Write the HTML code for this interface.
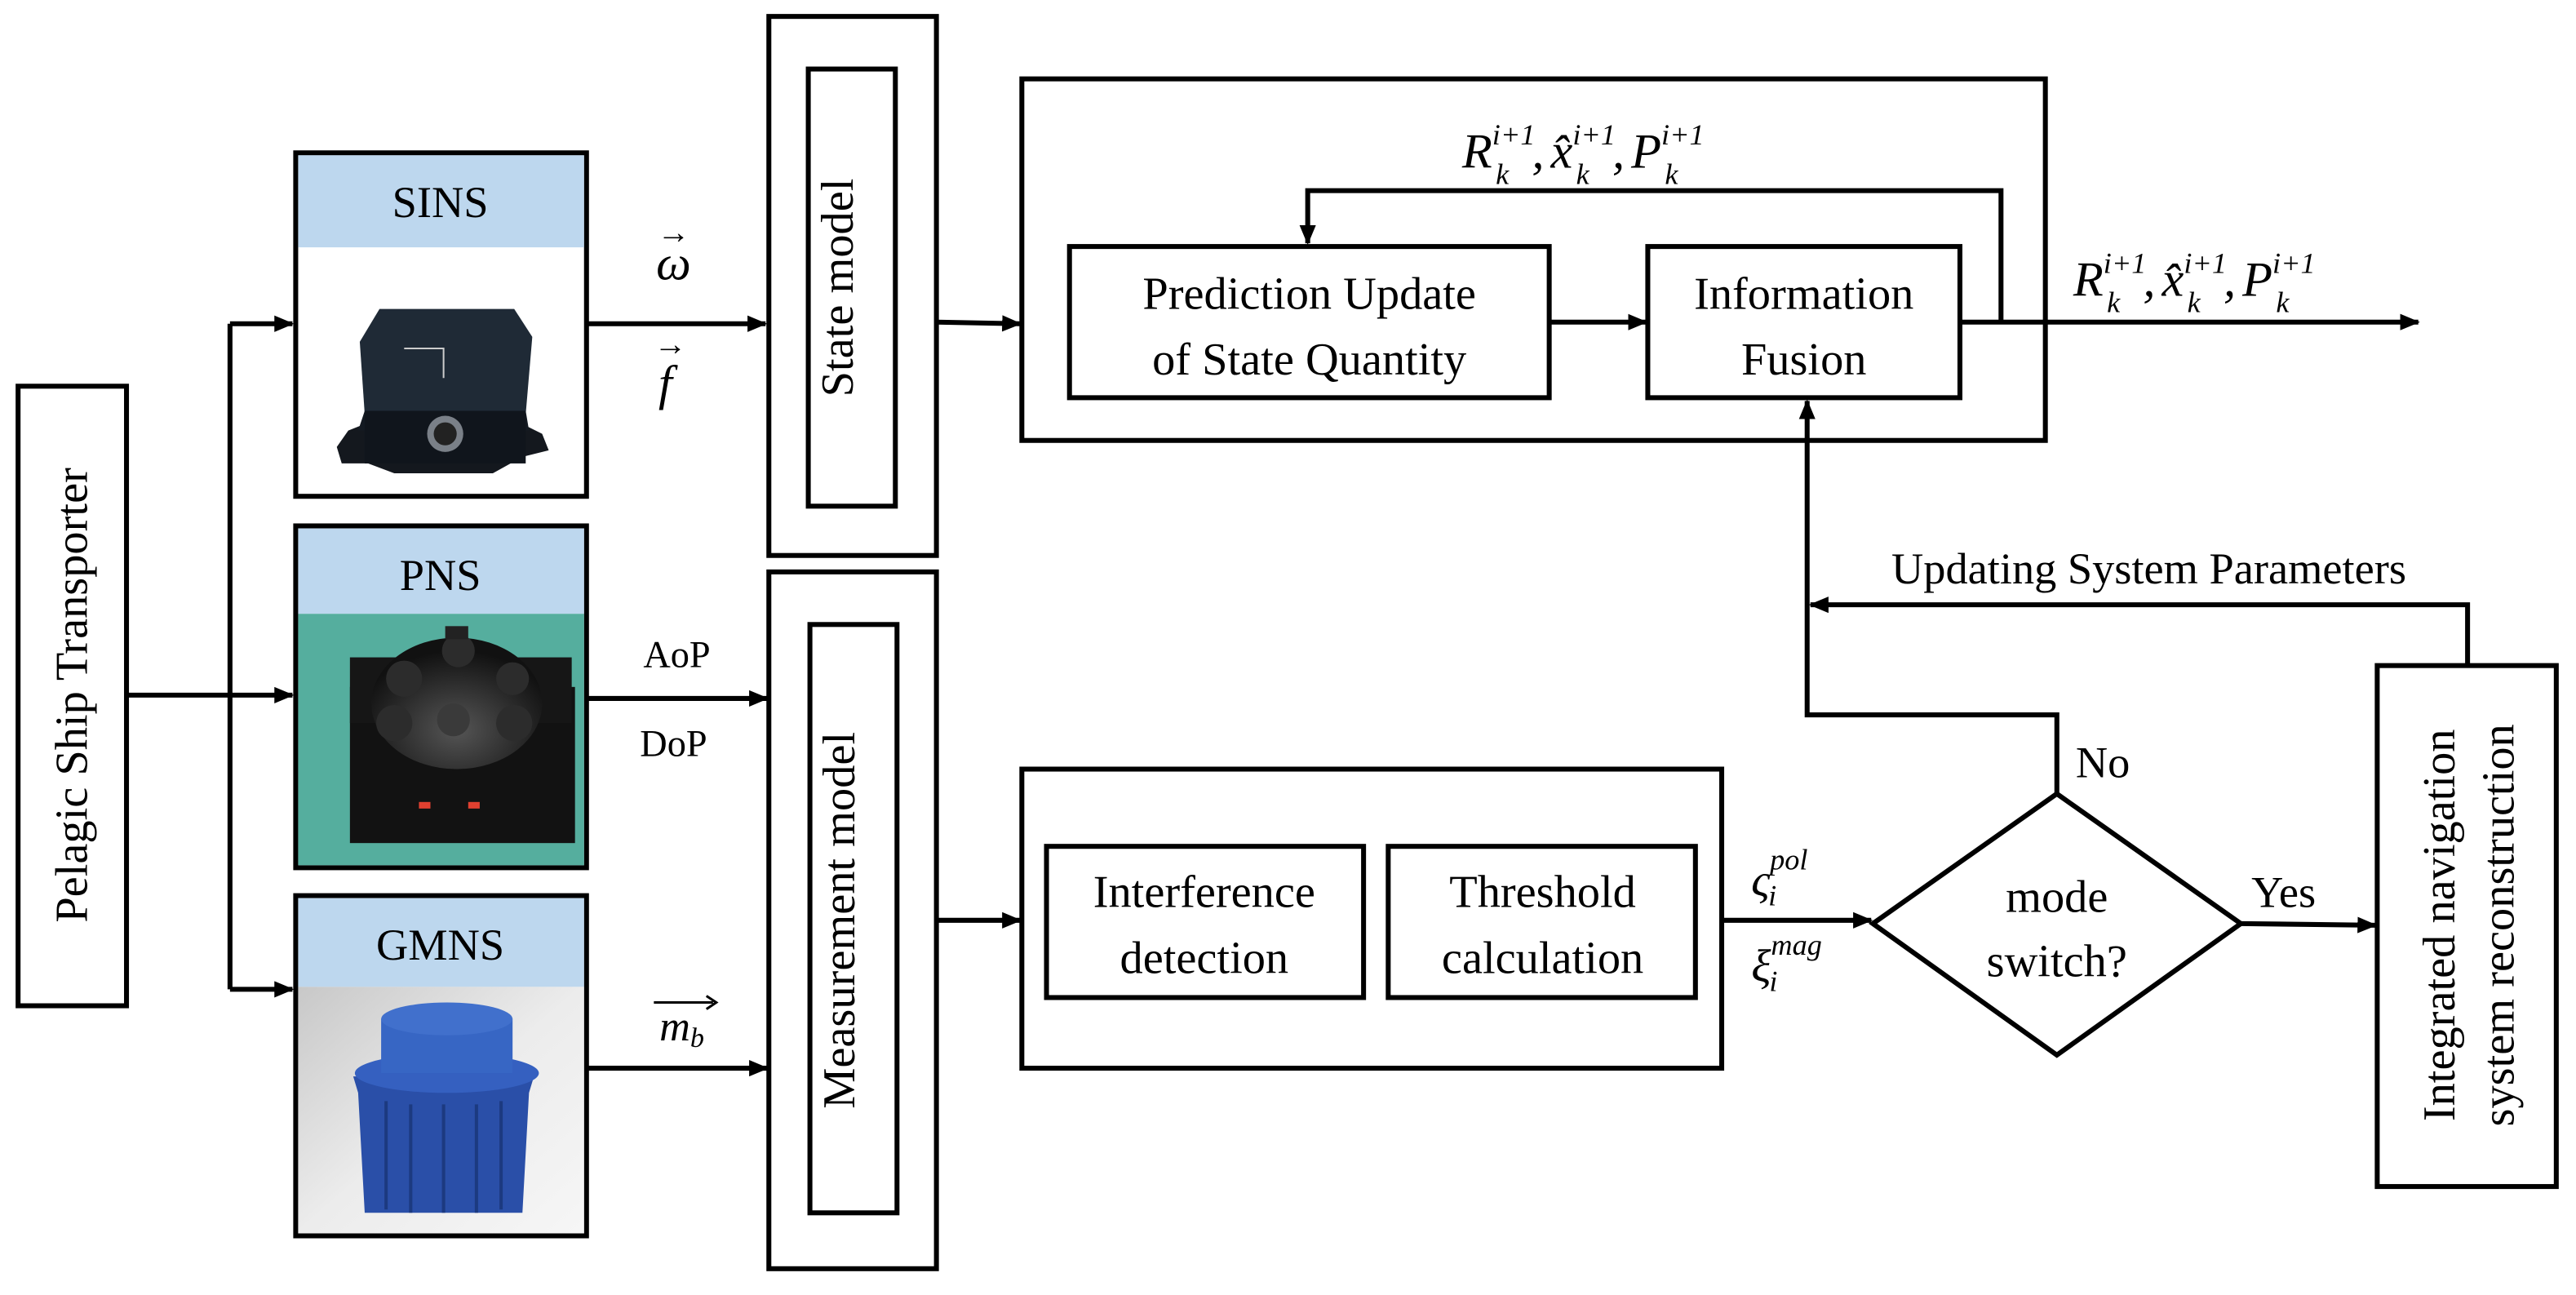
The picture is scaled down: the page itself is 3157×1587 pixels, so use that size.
<!DOCTYPE html>
<html><head><meta charset="utf-8"><style>
html,body{margin:0;padding:0;background:#fff;}
svg{display:block;}
text{font-family:"Liberation Serif",serif;fill:#000;}
</style></head><body>
<svg width="3157" height="1587" viewBox="0 0 1568 788" preserveAspectRatio="none" xmlns="http://www.w3.org/2000/svg">
<defs>
<marker id="a" markerWidth="12" markerHeight="10" refX="11" refY="5" orient="auto" markerUnits="userSpaceOnUse"><path d="M0,0 L12,5 L0,10 z" fill="#000"/></marker>
<linearGradient id="gm" x1="0" y1="0" x2="1" y2="1"><stop offset="0" stop-color="#c8c8c8"/><stop offset="0.5" stop-color="#ececec"/><stop offset="1" stop-color="#f6f6f6"/></linearGradient>
<radialGradient id="dome" cx="0.5" cy="0.7" r="0.6"><stop offset="0" stop-color="#555"/><stop offset="1" stop-color="#111"/></radialGradient>
</defs>
<g stroke="#000" stroke-width="3" fill="none">
<rect x="11" y="235" width="66" height="377" fill="#fff"/>
<rect x="180" y="93" width="177" height="209" fill="#fff"/>
<rect x="180" y="320" width="177" height="208" fill="#fff"/>
<rect x="180" y="545" width="177" height="207" fill="#fff"/>
</g>
<rect x="181.5" y="94.5" width="174" height="56" fill="#bdd7ee"/>
<rect x="181.5" y="321.5" width="174" height="52" fill="#bdd7ee"/>
<rect x="181.5" y="373.5" width="174" height="153" fill="#55ae9e"/>
<rect x="181.5" y="546.5" width="174" height="54" fill="#bdd7ee"/>
<rect x="181.5" y="600.5" width="174" height="150" fill="url(#gm)"/>
<!-- SINS device -->
<path d="M205,272 L212,262 L222,258 L222,248 L318,248 L318,258 L330,264 L334,274 L318,278 L300,288 L240,288 L224,282 L208,282 Z" fill="#14181e"/>
<path d="M219,208 L231,188 L313,188 L324,205 L320,252 L222,252 Z" fill="#1f2a36"/>
<path d="M222,250 L218,262 L322,262 L320,250 Z" fill="#141a22"/>
<rect x="222" y="250" width="98" height="32" fill="#10151c"/>
<circle cx="271" cy="264" r="11" fill="#7a8088"/><circle cx="271" cy="264" r="7" fill="#222"/>
<path d="M246,212 L270,212 L270,230" stroke="#ccc" stroke-width="1" fill="none"/>
<!-- PNS device -->
<rect x="213" y="418" width="137" height="95" fill="#121212"/>
<rect x="213" y="400" width="135" height="40" fill="#161616"/>
<ellipse cx="278" cy="428" rx="52" ry="40" fill="url(#dome)"/>
<circle cx="279" cy="396" r="10" fill="#2c2c2c"/>
<circle cx="246" cy="413" r="11" fill="#2c2c2c"/><circle cx="312" cy="413" r="10" fill="#2c2c2c"/>
<circle cx="240" cy="440" r="11" fill="#2c2c2c"/><circle cx="276" cy="438" r="10" fill="#3a3a3a"/><circle cx="313" cy="440" r="11" fill="#2c2c2c"/>
<rect x="271" y="381" width="14" height="8" fill="#222"/>
<rect x="255" y="488" width="7" height="4" fill="#e04030"/><rect x="285" y="488" width="7" height="4" fill="#e04030"/>
<!-- GMNS device -->
<path d="M215,655 L325,655 L322,665 L318,738 L222,738 L218,665 Z" fill="#2a4fa8"/>
<ellipse cx="272" cy="653" rx="56" ry="12" fill="#3560c0"/>
<rect x="232" y="620" width="80" height="33" fill="#3766c4"/>
<ellipse cx="272" cy="620" rx="40" ry="10" fill="#4170cc"/>
<g stroke="#1c3a80" stroke-width="2"><line x1="235" y1="670" x2="235" y2="736"/><line x1="250" y1="672" x2="250" y2="738"/><line x1="270" y1="672" x2="270" y2="738"/><line x1="290" y1="672" x2="290" y2="738"/><line x1="305" y1="670" x2="305" y2="736"/></g>
<g stroke="#000" stroke-width="3" fill="none">
<rect x="468" y="10" width="102" height="328"/>
<rect x="492" y="42" width="53" height="266"/>
<rect x="468" y="348" width="102" height="424"/>
<rect x="493" y="380" width="53" height="358"/>
<rect x="622" y="48" width="623" height="220"/>
<rect x="651" y="150" width="292" height="92"/>
<rect x="1003" y="150" width="190" height="92"/>
<rect x="622" y="468" width="426" height="182"/>
<rect x="637" y="515" width="193" height="92"/>
<rect x="845" y="515" width="187" height="92"/>
<path d="M1140,562 L1252,483 L1364,562 L1252,642 Z"/>
<rect x="1447" y="405" width="109" height="317"/>
<line x1="77" y1="423" x2="140" y2="423"/>
<line x1="140" y1="197" x2="140" y2="602"/>
<line x1="140" y1="197" x2="178" y2="197" marker-end="url(#a)"/>
<line x1="140" y1="423" x2="178" y2="423" marker-end="url(#a)"/>
<line x1="140" y1="602" x2="178" y2="602" marker-end="url(#a)"/>
<line x1="357" y1="197" x2="466" y2="197" marker-end="url(#a)"/>
<line x1="357" y1="425" x2="467" y2="425" marker-end="url(#a)"/>
<line x1="357" y1="650" x2="467" y2="650" marker-end="url(#a)"/>
<line x1="570" y1="196" x2="621" y2="197" marker-end="url(#a)"/>
<line x1="570" y1="560" x2="621" y2="560" marker-end="url(#a)"/>
<line x1="943" y1="196" x2="1002" y2="196" marker-end="url(#a)"/>
<polyline points="1218,196 1218,116 796,116 796,148" marker-end="url(#a)"/>
<line x1="1193" y1="196" x2="1472" y2="196" marker-end="url(#a)"/>
<line x1="1048" y1="560" x2="1139" y2="560" marker-end="url(#a)"/>
<line x1="1364" y1="562" x2="1446" y2="563" marker-end="url(#a)"/>
<polyline points="1252,483 1252,435 1100,435 1100,244" marker-end="url(#a)"/>
<polyline points="1502,405 1502,368 1102,368" marker-end="url(#a)"/>
</g>
<text x="53" y="423" font-size="28" text-anchor="middle" transform="rotate(-90 53 423)">Pelagic Ship Transporter</text>
<text x="268" y="132" font-size="27" text-anchor="middle">SINS</text>
<text x="268" y="359" font-size="27" text-anchor="middle">PNS</text>
<text x="268" y="584" font-size="27" text-anchor="middle">GMNS</text>
<text x="410" y="170" font-size="30" font-style="italic" text-anchor="middle">ω</text>
<text x="410" y="148" font-size="20" text-anchor="middle">→</text>
<text x="405" y="243" font-size="30" font-style="italic" text-anchor="middle">f</text>
<text x="408" y="216" font-size="20" text-anchor="middle">→</text>
<text x="412" y="406" font-size="23" text-anchor="middle">AoP</text>
<text x="410" y="460" font-size="23" text-anchor="middle">DoP</text>
<text x="415" y="633" font-size="26" font-style="italic" text-anchor="middle">m<tspan font-size="17" dy="4">b</tspan></text>
<line x1="398" y1="610" x2="434" y2="610" stroke="#000" stroke-width="1.5"/>
<path d="M430,606 L436,610 L430,614" stroke="#000" stroke-width="1.5" fill="none"/>
<text x="519" y="175" font-size="28" text-anchor="middle" transform="rotate(-90 519 175)">State model</text>
<text x="520" y="560" font-size="28" text-anchor="middle" transform="rotate(-90 520 560)">Measurement model</text>
<text x="797" y="188" font-size="28" text-anchor="middle">Prediction Update</text>
<text x="797" y="228" font-size="28" text-anchor="middle">of State Quantity</text>
<text x="1098" y="188" font-size="28" text-anchor="middle">Information</text>
<text x="1098" y="228" font-size="28" text-anchor="middle">Fusion</text>
<text x="733" y="552" font-size="28" text-anchor="middle">Interference</text>
<text x="733" y="592" font-size="28" text-anchor="middle">detection</text>
<text x="939" y="552" font-size="28" text-anchor="middle">Threshold</text>
<text x="939" y="592" font-size="28" text-anchor="middle">calculation</text>
<text x="1252" y="555" font-size="28" text-anchor="middle">mode</text>
<text x="1252" y="594" font-size="28" text-anchor="middle">switch?</text>
<text x="1390" y="552" font-size="27" text-anchor="middle">Yes</text>
<text x="1280" y="473" font-size="27" text-anchor="middle">No</text>
<text x="1308" y="355" font-size="27" text-anchor="middle">Updating System Parameters</text>
<text x="1494" y="563" font-size="28" text-anchor="middle" transform="rotate(-90 1494 563)">Integrated navigation</text>
<text x="1530" y="563" font-size="28" text-anchor="middle" transform="rotate(-90 1530 563)">system reconstruction</text>
<g font-style="italic">
<text x="890" y="102" font-size="30">R<tspan font-size="18" dy="-14">i+1</tspan><tspan font-size="18" dx="-24" dy="24">k</tspan><tspan font-size="30" dx="14" dy="-10">,</tspan><tspan font-size="30" dx="4">x̂</tspan><tspan font-size="18" dy="-14">i+1</tspan><tspan font-size="18" dx="-24" dy="24">k</tspan><tspan font-size="30" dx="14" dy="-10">,</tspan><tspan font-size="30" dx="4">P</tspan><tspan font-size="18" dy="-14">i+1</tspan><tspan font-size="18" dx="-24" dy="24">k</tspan></text>
<text x="1262" y="180" font-size="30">R<tspan font-size="18" dy="-14">i+1</tspan><tspan font-size="18" dx="-24" dy="24">k</tspan><tspan font-size="30" dx="14" dy="-10">,</tspan><tspan font-size="30" dx="4">x̂</tspan><tspan font-size="18" dy="-14">i+1</tspan><tspan font-size="18" dx="-24" dy="24">k</tspan><tspan font-size="30" dx="14" dy="-10">,</tspan><tspan font-size="30" dx="4">P</tspan><tspan font-size="18" dy="-14">i+1</tspan><tspan font-size="18" dx="-24" dy="24">k</tspan></text>
<text x="1066" y="545" font-size="28">ς<tspan font-size="18" dy="-16">pol</tspan><tspan font-size="18" dx="-24" dy="22">i</tspan></text>
<text x="1066" y="597" font-size="28">ξ<tspan font-size="18" dy="-16">mag</tspan><tspan font-size="18" dx="-32" dy="22">i</tspan></text>
</g>
</svg>
</body></html>
